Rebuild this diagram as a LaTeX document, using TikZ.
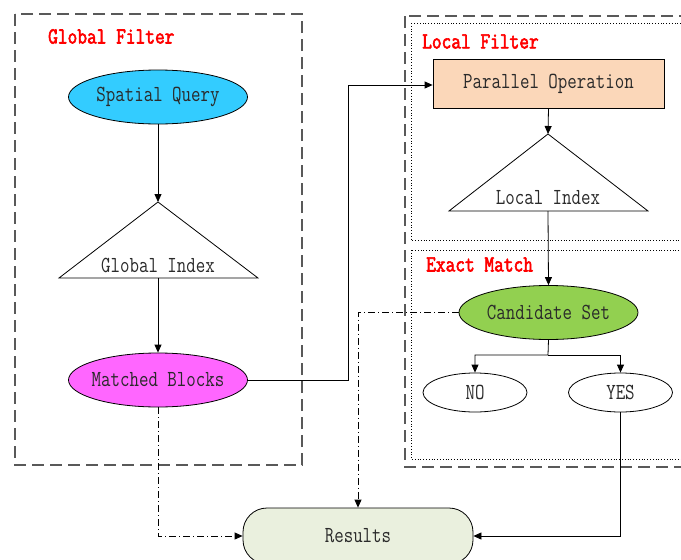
\documentclass[tikz,border=0pt]{standalone}
\usepackage{fontspec}
\newfontfamily\labfont[FakeStretch=0.8]{Latin Modern Mono}
\newfontfamily\headfont[FakeStretch=0.82, FakeBold=2.5]{Latin Modern Mono}
\usetikzlibrary{arrows.meta,shapes.geometric}
\definecolor{qcyan}{HTML}{33CCFF}
\definecolor{qmag}{HTML}{FF66FF}
\definecolor{qpeach}{HTML}{FBD7B9}
\definecolor{qgreen}{HTML}{92D050}
\definecolor{qres}{HTML}{EAF0DE}
\definecolor{qtext}{HTML}{2A2A2A}
\newcommand{\zw}[1]{\makebox[0pt]{#1}}
\begin{document}
\begin{tikzpicture}[x=1pt,y=-1pt,
  >={Triangle[length=8pt,width=7pt]},
  txt/.style={font=\labfont\fontsize{23}{23}\selectfont, text=qtext},
  title/.style={font=\headfont\fontsize{23}{23}\selectfont, text=red, anchor=west, inner sep=0},
  oval/.style={ellipse, draw, line width=0.8pt, inner sep=0, minimum width=179pt, minimum height=54pt, txt},
  smalloval/.style={ellipse, draw, line width=0.8pt, inner sep=0, minimum width=104pt, minimum height=39pt, txt},
  outerbox/.style={draw=black!65, line width=1.2pt, dash pattern=on 12pt off 6pt},
  innerbox/.style={draw, line width=0.8pt, dotted},
  flow/.style={draw, line width=0.8pt, ->},
  dashdot/.style={draw, line width=0.8pt, ->, dash pattern=on 7pt off 3pt on 1pt off 3pt},
  tri/.style={draw, line width=0.8pt}
]
\useasboundingbox (0,0) rectangle (681,560);

% group frames
\draw[outerbox] (15,14) rectangle (302,465);
\draw[outerbox] (405,16) rectangle (700,467);
\draw[innerbox] (411,23) rectangle (700,240);
\draw[innerbox] (411,250) rectangle (700,459);

\node[title] (tglobal) at (48,36.5) {Global Filter};
\node[title] (tlocal) at (422,41.5) {Local Filter};
\node[title] (texact) at (426,264.5) {Exact Match};

% global filter
\node[oval, fill=qcyan] (query) at (158,97) {\zw{Spatial Query}};
\coordinate (gapex) at (158,202);
\coordinate (gbase) at (158,278);
\draw[tri] (gapex) -- (59,278) -- (258,278) -- cycle;
\node[txt] (gindex) at (158,265) {Global Index};
\node[oval, fill=qmag] (blocks) at (158,380) {\zw{Matched Blocks}};

% local filter
\node[draw, line width=0.8pt, fill=qpeach, minimum width=231pt, minimum height=49pt, inner sep=0, txt] (parallel) at (548.5,83.5) {Parallel Operation};
\coordinate (lapex) at (548,134);
\coordinate (lbase) at (548,211);
\draw[tri] (lapex) -- (449,211) -- (648,211) -- cycle;
\node[txt] (lindex) at (548,198) {Local Index};

% exact match
\node[oval, fill=qgreen] (cand) at (548.5,312.5) {\zw{Candidate Set}};
\node[smalloval] (no) at (475,392.5) {\zw{NO}};
\node[smalloval] (yes) at (620.5,392.5) {\zw{YES}};

% results
\node[draw, line width=0.8pt, fill=qres, rounded corners=24pt, minimum width=230pt, minimum height=56pt, inner sep=0, txt] (results) at (358,536) {Results};

% connectors
\draw[flow] (query.south) -- (gapex);
\draw[flow] (gbase) -- (blocks.north);
\draw[flow] (blocks.east) -- (348,380) -- (348,85) -- (parallel.west |- 0,85);
\draw[flow] (parallel.south) -- (lapex);
\draw[flow] (lbase) -- (cand.north);
\coordinate (split) at (548,355);
\draw[flow] (cand.south) -- (split) -| (no.north);
\draw[flow] (split) -| (yes.north);
\draw[flow] (yes.south) |- (results.east);
\draw[dashdot] (blocks.south) |- (results.west);
\draw[dashdot] (cand.west) -| (results.north);
\end{tikzpicture}
\end{document}
